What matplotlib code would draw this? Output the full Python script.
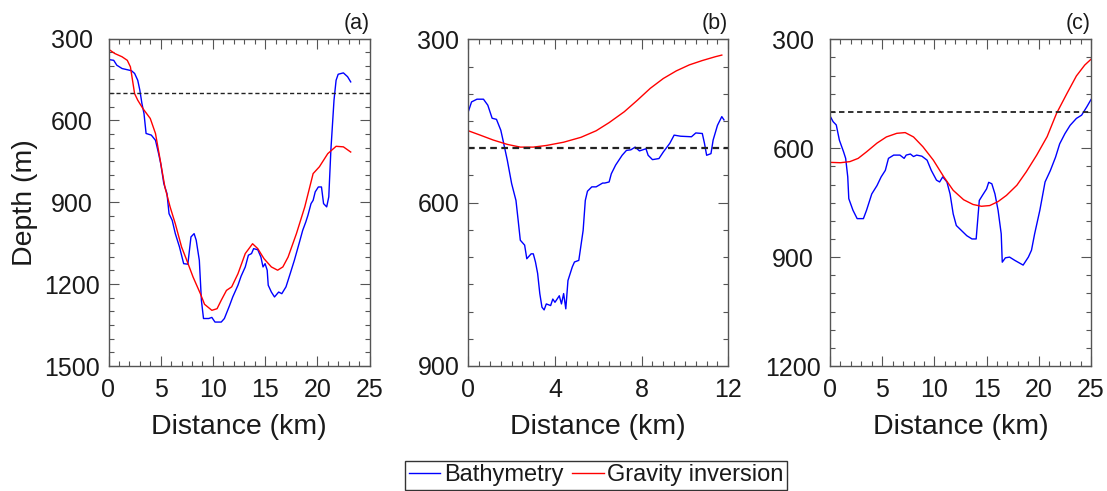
import numpy as np
import matplotlib
matplotlib.use("Agg")
import matplotlib.pyplot as plt
from matplotlib.ticker import MultipleLocator
from matplotlib.lines import Line2D

plt.rcParams['font.family'] = ['Liberation Sans', 'DejaVu Sans']

# ---------------- data ----------------
# Panel (a)
a_bathy_x = [0, 0.5, 0.8, 1.3, 2.2, 2.5, 2.8, 3.0, 3.2, 3.4, 3.6, 4.1, 4.5, 4.8, 5.0, 5.3, 5.6, 5.8,
             6.1, 6.4, 6.8, 7.2, 7.6, 7.9, 8.2, 8.4, 8.7, 8.9, 9.1, 9.6, 9.9, 10.2, 10.8, 11.1, 11.6,
             11.9, 12.4, 12.7, 13.1, 13.4, 13.7, 13.9, 14.3, 14.6, 14.8, 15.0, 15.2, 15.3, 15.6, 15.9,
             16.3, 16.6, 17.0, 17.4, 17.8, 18.3, 18.6, 18.9, 19.1, 19.4, 19.6, 19.8, 20.1, 20.4, 20.6,
             20.9, 21.1, 21.3, 21.6, 21.8, 22.0, 22.5, 22.9, 23.2]
a_bathy_y = [377, 380, 398, 410, 418, 428, 453, 489, 538, 575, 648, 654, 673, 722, 758, 832, 868, 942,
             966, 1015, 1064, 1125, 1127, 1027, 1015, 1039, 1113, 1260, 1326, 1326, 1322, 1339, 1339,
             1326, 1278, 1247, 1204, 1171, 1137, 1094, 1088, 1070, 1074, 1101, 1137, 1125, 1149, 1204,
             1229, 1247, 1229, 1235, 1210, 1162, 1113, 1045, 1003, 972, 948, 905, 893, 862, 844, 844,
             905, 917, 880, 709, 526, 453, 431, 426, 440, 459]
a_grav_x = [0, 0.6, 1.3, 1.8, 2.1, 2.3, 2.5, 2.8, 3.3, 4.0, 4.5, 4.9, 5.4, 5.9, 6.4, 7.0, 7.5, 8.1,
            8.8, 9.2, 9.9, 10.4, 10.8, 11.3, 11.8, 12.4, 13.1, 13.8, 14.3, 14.9, 15.6, 16.2, 16.7,
            17.2, 18.0, 18.8, 19.6, 20.2, 21.0, 21.8, 22.5, 23.2]
a_grav_y = [339, 355, 367, 380, 404, 453, 502, 526, 557, 593, 648, 734, 844, 917, 979, 1064, 1113,
            1174, 1235, 1274, 1296, 1290, 1259, 1223, 1210, 1162, 1088, 1052, 1070, 1107, 1137, 1149,
            1137, 1101, 1015, 917, 795, 770, 722, 695, 697, 716]

# Panel (b)
b_bathy_x = [0, 0.15, 0.4, 0.7, 0.9, 1.1, 1.3, 1.5, 1.6, 1.8, 2.0, 2.2, 2.3, 2.4, 2.6, 2.7, 2.9, 3.0,
             3.1, 3.2, 3.3, 3.4, 3.5, 3.6, 3.8, 3.9, 4.0, 4.2, 4.3, 4.4, 4.5, 4.6, 4.8, 4.9, 5.1, 5.3,
             5.4, 5.5, 5.7, 5.9, 6.2, 6.3, 6.5, 6.6, 6.8, 6.9, 7.1, 7.3, 7.5, 7.7, 7.9, 8.2, 8.3, 8.5,
             8.8, 9.0, 9.3, 9.5, 9.8, 10.3, 10.5, 10.8, 10.9, 11.0, 11.2, 11.3, 11.5, 11.7, 11.8]
b_bathy_y = [433, 415, 410, 410, 421, 445, 447, 467, 485, 522, 565, 596, 632, 669, 678, 703, 694, 694,
             709, 730, 767, 792, 797, 786, 789, 777, 783, 771, 786, 767, 795, 743, 718, 709, 706, 651,
             596, 579, 571, 571, 564, 564, 562, 547, 531, 525, 513, 504, 503, 498, 505, 501, 513, 521,
             519, 507, 491, 476, 478, 479, 472, 473, 491, 513, 510, 485, 458, 442, 448]
b_grav_x = [0, 0.55, 1.15, 1.8, 2.4, 3.0, 3.6, 4.4, 5.2, 5.9, 6.5, 7.2, 7.8, 8.4, 9.0, 9.6, 10.2,
            10.8, 11.4, 11.7]
b_grav_y = [468, 476, 485, 493, 498, 498, 495, 489, 480, 468, 453, 433, 412, 390, 372, 358, 347,
            339, 332, 329]

# Panel (c)
c_bathy_x = [0, 0.3, 0.6, 0.9, 1.3, 1.5, 1.7, 1.8, 2.2, 2.6, 3.2, 3.5, 4.0, 4.5, 4.9, 5.3, 5.6, 6.1,
             6.7, 7.1, 7.3, 7.7, 8.0, 8.3, 8.8, 9.3, 9.7, 10.2, 10.5, 10.8, 11.2, 11.5, 11.8, 12.1,
             12.6, 13.1, 13.6, 14.0, 14.3, 14.6, 15.0, 15.2, 15.5, 15.8, 16.1, 16.4, 16.5, 16.8, 17.2,
             17.7, 18.5, 19.0, 19.3, 19.6, 20.1, 20.6, 21.1, 21.6, 22.0, 22.5, 23.0, 23.6, 24.1, 24.6,
             25.0]
c_bathy_y = [511, 527, 536, 578, 610, 628, 679, 739, 771, 794, 794, 771, 726, 703, 679, 661, 628, 619,
             619, 628, 619, 616, 623, 619, 622, 633, 661, 688, 693, 679, 693, 726, 781, 813, 827, 841,
             850, 850, 744, 730, 712, 694, 698, 726, 771, 836, 914, 902, 900, 909, 922, 900, 881, 836,
             771, 693, 662, 625, 588, 560, 537, 518, 509, 486, 466]
c_grav_x = [0, 1.0, 1.9, 2.7, 3.5, 4.5, 5.4, 6.4, 7.2, 8.0, 8.9, 9.9, 10.9, 11.8, 12.8, 13.7, 14.5,
            15.3, 16.1, 16.9, 17.9, 18.8, 19.8, 20.8, 21.7, 22.7, 23.6, 24.4, 25.0]
c_grav_y = [639, 640, 637, 628, 610, 586, 569, 559, 557, 569, 596, 633, 679, 716, 742, 755, 760,
            758, 747, 730, 702, 665, 619, 568, 504, 449, 401, 371, 355]

ref_depth = 500
panel_labels = ['(a)', '(b)', '(c)']
xlims = [(0, 25), (0, 12), (0, 25)]
ylims = [(300, 1500), (300, 900), (300, 1200)]
xmajor = [5, 4, 5]
xminor = [1, 0.5, 1]
ymajor = [300, 300, 300]
yminor = [50, 50, 50]
legend_labels = ['Bathymetry', 'Gravity inversion']

# ---------------- figure ----------------
W, H = 1107, 491
fig = plt.figure(figsize=(W / 100, H / 100), dpi=100)

boxes = [(108.5, 38.5, 369.5, 366), (468.3, 39.3, 728.3, 366), (830, 39.3, 1091, 366)]
data = [(a_bathy_x, a_bathy_y, a_grav_x, a_grav_y),
        (b_bathy_x, b_bathy_y, b_grav_x, b_grav_y),
        (c_bathy_x, c_bathy_y, c_grav_x, c_grav_y)]
dash_lw = [1.0, 1.6, 1.3]
spine_col = '#555555'
text_col = '#1a1a1a'

for i, (box, d) in enumerate(zip(boxes, data)):
    l, t, r, b = box
    ax = fig.add_axes([l / W, 1 - b / H, (r - l) / W, (b - t) / H])
    bx, by, gx, gy = d
    ax.plot(bx, by, color='#0000ff', lw=1.0)
    ax.plot(gx, gy, color='#ff0000', lw=1.0)
    ax.axhline(ref_depth, color='#222222', lw=dash_lw[i], ls=(0, (3, 2)))
    ax.set_xlim(*xlims[i])
    ax.set_ylim(ylims[i][1], ylims[i][0])
    ax.xaxis.set_major_locator(MultipleLocator(xmajor[i]))
    ax.xaxis.set_minor_locator(MultipleLocator(xminor[i]))
    ax.yaxis.set_major_locator(MultipleLocator(ymajor[i]))
    ax.yaxis.set_minor_locator(MultipleLocator(yminor[i]))
    for s in ax.spines.values():
        s.set_color(spine_col)
        s.set_linewidth(1.0)
    widest = max(len(str(v)) for v in ylims[i])
    ypad = (9 + widest * 0.556 * 25 / 2) * 0.72
    ax.tick_params(which='both', direction='in', top=True, right=True, color=spine_col,
                   width=0.8, labelcolor=text_col)
    ax.tick_params(which='major', length=7.2)
    ax.tick_params(which='minor', length=3.6)
    ax.tick_params(axis='x', which='major', labelsize=18, pad=8.5)
    ax.tick_params(axis='y', which='major', labelsize=18, pad=ypad)
    for lab in ax.get_yticklabels():
        lab.set_horizontalalignment('center')
    ax.set_xlabel('Distance (km)', fontsize=20.5, color=text_col, labelpad=9)
    if i == 0:
        ax.set_ylabel('Depth (m)', fontsize=20.5, color=text_col, labelpad=4)
    fig.text(r / W, 1 - 23 / H, panel_labels[i], ha='right', va='center', fontsize=15.5,
             color=text_col)

handles = [Line2D([], [], color='#0000ff', lw=1.0), Line2D([], [], color='#ff0000', lw=1.0)]
leg = fig.legend(handles, legend_labels, loc='lower center', bbox_to_anchor=(596 / W, 1 / H),
                 ncol=2, fontsize=17, frameon=True, fancybox=False, edgecolor='#333333',
                 handlelength=1.35, handletextpad=0.15, columnspacing=0.35, borderpad=0.15,
                 borderaxespad=0, framealpha=1)
leg.get_frame().set_linewidth(1.0)
for txt in leg.get_texts():
    txt.set_color(text_col)

fig.savefig('out.png', dpi=100)
